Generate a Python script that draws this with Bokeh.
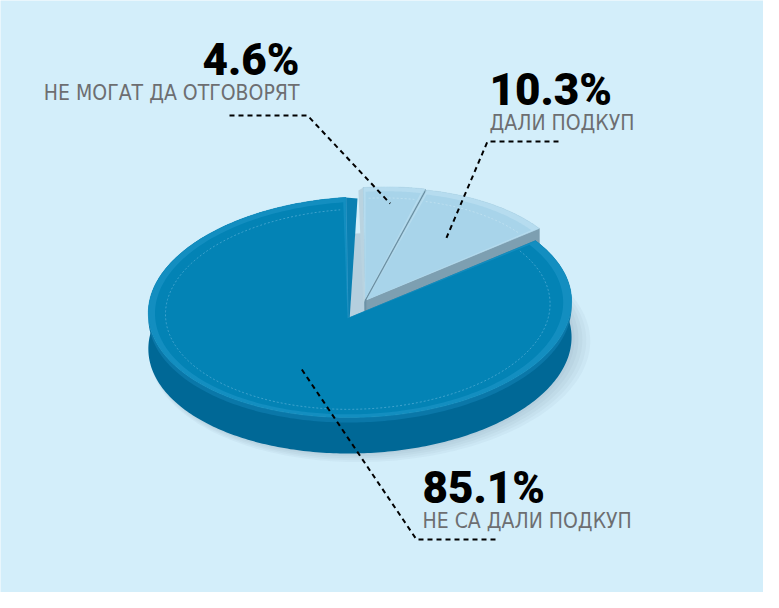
import numpy as np
from bokeh.plotting import figure
from bokeh.models import Range1d
from bokeh.core.properties import value
from bokeh.embed import file_html
from bokeh.resources import INLINE

# ---------------- data ----------------
categories = ["НЕ МОГАТ ДА ОТГОВОРЯТ", "ДАЛИ ПОДКУП", "НЕ СА ДАЛИ ПОДКУП"]
shares = [4.6, 10.3, 85.1]            # clockwise from 12 o'clock
pct_labels = ["4.6%", "10.3%", "85.1%"]

# ---------------- styling / geometry ----------------
BG = "#d3eefa"
TOP = ["#a8d4ea", "#a8d4ea", "#0383b5"]
BEVEL = ["#b6dcef", "#b6dcef", "#138ec0"]
INNER = ["#c6e5f3", "#c6e5f3", "#56aed6"]
RIM_SIDE = ["#85abbe", "#85abbe", "#006896"]
CUT_SIDE = ["#6a8fa2", "#7d9fb1", "#0a79aa"]
DEPTH = 36.0
MAIN_C = np.array([355.0, 326.0])
SMALL_SHIFT = np.array([17.0, -17.0])
SMALL_SCALE = 0.925
GAP = 3.0

# projective mapping of the unit disk (u right, v toward viewer)
PA, PB, PD, PE, PG, PH = 209.8, 1.8, -6.0, 108.9, -0.0594, 0.1


def proj(u, v):
    w = PG * u + PH * v + 1.0
    return (PA * u + PB * v) / w, (PD * u + PE * v) / w


def arc(a0, a1, center, r=1.0, n=120):
    th = np.radians(np.linspace(a0, a1, n))
    x, y = proj(r * np.cos(th), -r * np.sin(th))
    return center[0] + x, center[1] + y


def point(ang, r, center):
    t = np.radians(ang)
    x, y = proj(r * np.cos(t), -r * np.sin(t))
    return center[0] + x, center[1] + y


p = figure(width=763, height=592, output_backend="svg", toolbar_location=None,
           x_range=Range1d(8, 771), y_range=Range1d(600, 8),
           x_axis_location=None, y_axis_location=None, min_border=0,
           background_fill_color=BG, border_fill_color=BG, outline_line_color=None)
p.grid.visible = False

# slice angles
bounds = []
start = 90.0
for s in shares:
    end = start - s * 3.6
    bounds.append((start, end))
    start = end

centers, radii = [], []
for i, (a0, a1) in enumerate(bounds):
    mid = np.radians((a0 + a1) / 2)
    if i < 2:
        dx, dy = proj(np.cos(mid), -np.sin(mid))
        d = np.array([dx, dy]) / np.hypot(dx, dy)
        centers.append(MAIN_C + SMALL_SHIFT + GAP * d)
        radii.append(SMALL_SCALE)
    else:
        centers.append(MAIN_C.copy())
        radii.append(1.0)

# soft shadow of the whole pie
for k in range(5):
    sx, sy = arc(0, 360, MAIN_C, r=1.0 + 0.01 * k, n=240)
    p.patch(sx + 3 + 1.5 * k, sy + DEPTH + 1 + k, fill_color="#3f6577", fill_alpha=0.045,
            line_color=None)

# draw slices back (small) to front (main)
for i, (a0, a1) in enumerate(bounds):
    c = centers[i]
    r = radii[i]
    n = 300 if i == 2 else 60
    ax, ay = arc(a0, a1, c, r=r, n=n)
    # outer wall as one band
    p.patch(np.concatenate([ax, ax[::-1]]), np.concatenate([ay, ay[::-1] + DEPTH]),
            fill_color=RIM_SIDE[i], line_color=None)
    # cut faces
    for (ex, ey) in [(ax[0], ay[0]), (ax[-1], ay[-1])]:
        p.patch([c[0], ex, ex, c[0]], [c[1], ey, ey + DEPTH, c[1] + DEPTH],
                fill_color=CUT_SIDE[i], line_color=CUT_SIDE[i], line_width=0.6)
    if i == 0:
        # thin wall visible on the left of the 12 o'clock slice
        p.patch([ax[0] - 5, ax[0], c[0], c[0] - 2], [ay[0] + 3, ay[0], c[1], c[1] + 6],
                fill_color="#b9d3e0", line_color=None)
    if i == 2:
        # lighter band at top of the side wall
        p.patch(np.concatenate([ax, ax[::-1]]), np.concatenate([ay, ay[::-1] + 5]),
                fill_color="#0a77a8", line_color=None)
        # visible cut face along the 12 o'clock edge
        p.patch([ax[-1], ax[-1] + 12, c[0] + 2, c[0]], [ay[-1], ay[-1] + 1, c[1] + 2, c[1]],
                fill_color="#0a80b2", line_color=None)
        p.line([ax[-1] + 0.5, c[0] + 0.5], [ay[-1], c[1]], line_color="#3b9ccb",
               line_width=0.8)
    # top face
    xs = np.concatenate([[c[0]], ax])
    ys = np.concatenate([[c[1]], ay])
    p.patch(xs, ys, fill_color=BEVEL[i], line_color=BEVEL[i], line_width=0.6)
    ix, iy = arc(a0 - 0.6, a1 + 0.6, c, r=0.965 * r, n=n)
    p.patch(np.concatenate([[c[0]], ix]), np.concatenate([[c[1]], iy]),
            fill_color=TOP[i], line_color=None)
    lx, ly = arc(a0 - 1.5, a1 + 1.5, c, r=0.91 * r, n=n)
    p.line(lx, ly, line_color=INNER[i], line_width=0.9, line_dash="2 2", line_alpha=0.8)

# ---------------- labels & leaders ----------------
anchor_r = [0.8, 0.62, 0.53]
ends = [point((a0 + a1) / 2, anchor_r[i], centers[i]) for i, (a0, a1) in enumerate(bounds)]

leaders = [
    ([237, 315, ends[0][0]], [123, 123, ends[0][1]]),
    ([566, 495, ends[1][0]], [149, 149, ends[1][1]]),
    ([503, 424, ends[2][0]], [547, 547, ends[2][1]]),
]
for lx, ly in leaders:
    p.line(lx, ly, line_color="black", line_width=2, line_dash="5 4")

PCT_SIZE, CAT_SIZE = 44, 21
K = 0.39   # baseline correction factor
label_pos = [(307, 85, 109, "right"), (497, 115, 139, "left"), (430, 513, 537, "left")]
for i, (x, yb, yc, al) in enumerate(label_pos):
    p.text([x], [yb - K * PCT_SIZE], text=[pct_labels[i]],
           text_font=value("'Roboto Black', Roboto, sans-serif"),
           text_font_style="bold", text_font_size=f"{PCT_SIZE}px", text_color="#000000",
           text_align=al, text_baseline="alphabetic")
    p.text([x], [yc - K * CAT_SIZE], text=[categories[i]], text_font=value("DejaVu Sans Condensed"),
           text_font_size=f"{CAT_SIZE}px", text_color="#6d6e71", text_align=al,
           text_baseline="alphabetic")

open("out.html", "w").write(file_html(p, INLINE))
